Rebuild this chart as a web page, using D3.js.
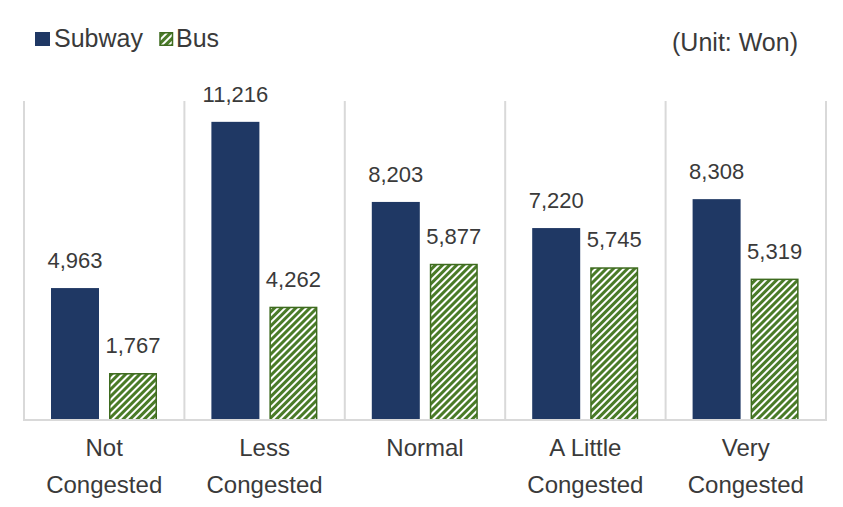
<!DOCTYPE html>
<html>
<head>
<meta charset="utf-8">
<script src="https://cdn.jsdelivr.net/npm/d3@7"></script>
<style>
  body { margin: 0; background: #fff; }
  text { font-family: "Liberation Sans", Arial, sans-serif; fill: #3a3a3a; }
</style>
</head>
<body>
<div id="chart"></div>
<script>
const categories = [["Not", "Congested"], ["Less", "Congested"], ["Normal"], ["A Little", "Congested"], ["Very", "Congested"]];
const seriesNames = ["Subway", "Bus"];
const subway = [4963, 11216, 8203, 7220, 8308];
const bus = [1767, 4262, 5877, 5745, 5319];

const width = 843, height = 507;
const margin = {top: 101, right: 17, bottom: 87, left: 24};

const svg = d3.select("#chart").append("svg")
    .attr("width", width)
    .attr("height", height);

// hatch pattern for bus bars
const defs = svg.append("defs");
const pat = defs.append("pattern")
    .attr("id", "hatch")
    .attr("patternUnits", "userSpaceOnUse")
    .attr("width", 5)
    .attr("height", 5)
    .attr("patternTransform", "rotate(45)");
pat.append("rect").attr("width", 5).attr("height", 5).attr("fill", "#ffffff");
pat.append("rect").attr("width", 3).attr("height", 5).attr("fill", "#4a7b28");

const x = d3.scaleBand()
    .domain(d3.range(categories.length))
    .range([margin.left, width - margin.right]);

const x1 = d3.scaleBand()
    .domain(seriesNames)
    .range([27, 133])
    .paddingInner(10 / 58);

const y = d3.scaleLinear()
    .domain([0, 12000])
    .range([height - margin.bottom, margin.top]);

// frame: separators
const seps = d3.range(categories.length + 1).map(i => i === categories.length ? x.range()[1] : x(i));
svg.selectAll("line.sep")
    .data(seps)
    .enter().append("line")
    .attr("class", "sep")
    .attr("x1", d => d).attr("x2", d => d)
    .attr("y1", y(12000)).attr("y2", y(0))
    .attr("stroke", "#d9d9d9")
    .attr("stroke-width", 2);

const groups = svg.selectAll("g.cat")
    .data(categories.map((c, i) => ({c, i, vals: [subway[i], bus[i]]})))
    .enter().append("g")
    .attr("class", "cat")
    .attr("transform", d => `translate(${x(d.i)},0)`);

groups.each(function(d) {
    const g = d3.select(this);
    d.vals.forEach((v, k) => {
        const name = seriesNames[k];
        const bx = x1(name);
        const bw = x1.bandwidth();
        if (k === 0) {
            g.append("rect")
                .attr("x", bx).attr("width", bw)
                .attr("y", y(v)).attr("height", y(0) - y(v))
                .attr("fill", "#1f3864");
        } else {
            g.append("rect")
                .attr("x", bx + 0.75).attr("width", bw - 1.5)
                .attr("y", y(v) + 0.75).attr("height", y(0) - y(v) - 0.75)
                .attr("fill", "url(#hatch)")
                .attr("stroke", "#3e6b1f")
                .attr("stroke-width", 1.5);
        }
        g.append("text")
            .attr("x", bx + bw / 2)
            .attr("y", y(v) - 20)
            .attr("text-anchor", "middle")
            .style("font-size", "22px")
            .text(d3.format(",")(v));
    });
    const lab = g.append("text")
        .attr("x", x.bandwidth() / 2)
        .attr("y", 456)
        .attr("text-anchor", "middle")
        .style("font-size", "24px");
    d.c.forEach((line, j) => {
        lab.append("tspan")
            .attr("x", x.bandwidth() / 2)
            .attr("dy", j === 0 ? 0 : 37)
            .text(line);
    });
});

// baseline
svg.append("line")
    .attr("x1", x.range()[0] - 1).attr("x2", x.range()[1] + 1)
    .attr("y1", y(0)).attr("y2", y(0))
    .attr("stroke", "#d9d9d9")
    .attr("stroke-width", 2);

// legend
const leg = svg.append("g").attr("transform", "translate(35,32)");
leg.append("rect").attr("width", 15).attr("height", 14).attr("fill", "#1f3864");
leg.append("text").attr("x", 19).attr("y", 15).style("font-size", "25px").text(seriesNames[0]);
leg.append("rect").attr("x", 125).attr("y", 0.75).attr("width", 12.5).attr("height", 12.5)
    .attr("fill", "url(#hatch)").attr("stroke", "#3e6b1f").attr("stroke-width", 1.5);
leg.append("text").attr("x", 141).attr("y", 15).style("font-size", "25px").text(seriesNames[1]);

svg.append("text")
    .attr("x", 798).attr("y", 51)
    .attr("text-anchor", "end")
    .style("font-size", "25px")
    .text("(Unit: Won)");
</script>
</body>
</html>
